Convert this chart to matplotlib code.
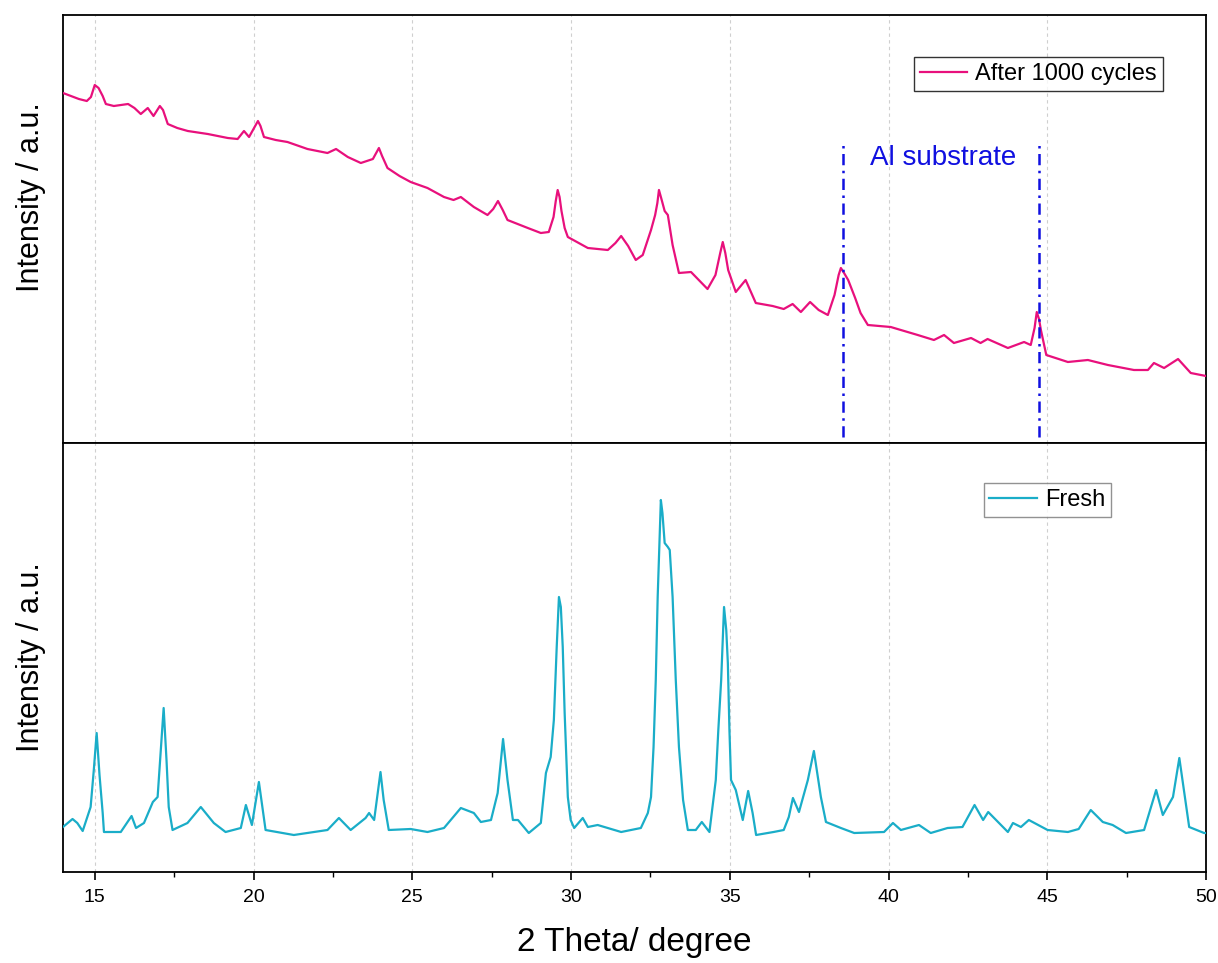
import matplotlib
matplotlib.use("Agg")
import matplotlib.pyplot as plt
from matplotlib.ticker import MultipleLocator

# ---------------- data ----------------
after_2theta = [14.00, 14.25, 14.50, 14.75, 14.88, 15.00, 15.12, 15.25, 15.35, 15.60,
                16.05, 16.25, 16.45, 16.67, 16.85, 17.05, 17.15, 17.30, 17.60, 17.93,
                18.56, 19.19, 19.50, 19.70, 19.86, 20.14, 20.22, 20.33, 20.70, 21.07,
                21.70, 22.33, 22.60, 22.97, 23.38, 23.76, 23.95, 24.05, 24.22, 24.60,
                24.95, 25.48, 26.00, 26.30, 26.53, 26.94, 27.37, 27.55, 27.70, 27.85,
                28.00, 28.64, 29.05, 29.30, 29.45, 29.52, 29.58, 29.64, 29.70, 29.80,
                29.90, 30.53, 31.16, 31.40, 31.58, 31.80, 32.04, 32.26, 32.52, 32.65,
                32.72, 32.77, 32.84, 32.95, 33.05, 33.20, 33.40, 33.78, 34.30, 34.55,
                34.70, 34.78, 34.86, 34.95, 35.19, 35.50, 35.82, 36.35, 36.70, 36.98,
                37.24, 37.53, 37.80, 38.09, 38.30, 38.43, 38.50, 38.60, 38.73, 38.95,
                39.12, 39.35, 40.07, 40.92, 41.43, 41.75, 42.06, 42.60, 42.90, 43.12,
                43.76, 44.27, 44.48, 44.60, 44.67, 44.74, 44.80, 44.97, 45.65, 46.28,
                46.91, 47.73, 48.17, 48.36, 48.68, 49.12, 49.52, 50.00]
after_intensity = [350, 347, 344, 342, 346, 358, 355, 347, 339, 337,
                   339, 335, 329, 335, 327, 337, 333, 319, 315, 312,
                   309, 305, 304, 312, 306, 322, 317, 306, 303, 301,
                   294, 290, 294, 286, 280, 284, 295, 287, 275, 267,
                   261, 255, 246, 243, 246, 236, 228, 234, 242, 233,
                   223, 215, 210, 211, 226, 242, 253, 246, 232, 215,
                   206, 195, 193, 200, 207, 197, 183, 188, 213, 228,
                   240, 253, 245, 232, 228, 198, 170, 171, 154, 168,
                   190, 201, 190, 173, 151, 163, 140, 137, 134, 139,
                   131, 141, 133, 128, 148, 168, 175, 170, 163, 145,
                   130, 118, 116, 108, 103, 108, 100, 105, 100, 104,
                   95, 101, 98, 115, 131, 124, 113, 88, 81, 83,
                   78, 73, 73, 80, 75, 84, 70, 67]

fresh_2theta = [14.00, 14.30, 14.45, 14.62, 14.87, 14.97, 15.06, 15.15, 15.25, 15.29,
                15.82, 16.16, 16.30, 16.55, 16.83, 16.98, 17.08, 17.17, 17.26, 17.33,
                17.45, 17.92, 18.34, 18.75, 19.12, 19.60, 19.76, 19.95, 20.17, 20.38,
                21.27, 21.90, 22.33, 22.69, 23.06, 23.53, 23.64, 23.80, 24.00, 24.10,
                24.26, 24.95, 25.48, 26.00, 26.53, 26.94, 27.16, 27.48, 27.69, 27.86,
                28.00, 28.17, 28.33, 28.67, 29.05, 29.21, 29.36, 29.46, 29.55, 29.62,
                29.68, 29.74, 29.80, 29.90, 29.99, 30.10, 30.37, 30.53, 30.84, 31.58,
                32.20, 32.42, 32.52, 32.60, 32.67, 32.73, 32.83, 32.88, 32.95, 33.05,
                33.11, 33.20, 33.30, 33.40, 33.53, 33.68, 33.93, 34.12, 34.36, 34.56,
                34.64, 34.73, 34.82, 34.89, 34.94, 34.99, 35.04, 35.19, 35.41, 35.58,
                35.72, 35.83, 36.38, 36.70, 36.86, 36.99, 37.18, 37.46, 37.65, 37.87,
                38.03, 38.50, 38.92, 39.86, 40.14, 40.39, 40.96, 41.33, 41.86, 42.33,
                42.71, 42.98, 43.14, 43.76, 43.92, 44.17, 44.42, 45.01, 45.65, 45.99,
                46.37, 46.75, 47.06, 47.48, 48.05, 48.43, 48.64, 48.96, 49.16, 49.47,
                49.94, 50.00]
fresh_intensity = [45, 53, 49, 41, 65, 102, 139, 97, 59, 40,
                   40, 56, 44, 49, 70, 75, 122, 164, 112, 65,
                   42, 49, 65, 49, 40, 44, 67, 47, 90, 42,
                   37, 40, 42, 54, 42, 54, 59, 52, 100, 72,
                   42, 43, 40, 44, 64, 59, 50, 52, 79, 133,
                   92, 52, 52, 39, 49, 99, 115, 152, 225, 275,
                   265, 225, 159, 75, 52, 44, 54, 45, 47, 40,
                   44, 59, 75, 125, 192, 275, 372, 359, 329, 325,
                   322, 275, 192, 125, 72, 42, 42, 50, 40, 92,
                   142, 192, 265, 242, 209, 142, 92, 82, 52, 81,
                   59, 37, 40, 42, 55, 74, 60, 92, 121, 75,
                   50, 44, 39, 40, 49, 42, 47, 39, 44, 45,
                   67, 52, 60, 40, 49, 45, 52, 42, 40, 43,
                   62, 50, 47, 39, 42, 82, 57, 75, 114, 45,
                   39, 39]

al_positions = [38.57, 44.73]
al_label = "Al substrate"
series_labels = ["After 1000 cycles", "Fresh"]
x_label = "2 Theta/ degree"
y_label = "Intensity / a.u."

# ---------------- figure ----------------
plt.rcParams['font.family'] = ['Liberation Sans', 'DejaVu Sans']

W, H = 1218, 963
fig = plt.figure(figsize=(W / 100, H / 100), dpi=100)
left, right = 63 / W, 1206 / W
ax1 = fig.add_axes([left, 1 - 443 / H, right - left, (443 - 15) / H])
ax2 = fig.add_axes([left, 1 - 872 / H, right - left, (872 - 443) / H], sharex=ax1)

pink = '#E8107C'
cyan = '#1AADC8'

ax1.plot(after_2theta, after_intensity, color=pink, lw=1.6, label=series_labels[0], zorder=3)
ax2.plot(fresh_2theta, fresh_intensity, color=cyan, lw=1.6, label=series_labels[1], zorder=3)

ax1.vlines(al_positions, 6, 298, colors='#1010E0', lw=1.8,
           linestyles=[(0, (4.5, 2.2, 1, 2.2))], zorder=4)
ax1.text(41.73, 285, al_label, color='#1010E0', fontsize=20, ha='center', va='center')

for ax in (ax1, ax2):
    ax.set_xlim(14, 50)
    ax.xaxis.set_major_locator(MultipleLocator(5))
    ax.xaxis.set_minor_locator(MultipleLocator(2.5))
    ax.tick_params(axis='x', which='major', direction='out', length=6, width=1.2)
    ax.tick_params(axis='x', which='minor', direction='out', length=3.5, width=1.0)
    ax.set_yticks([])
    ax.grid(axis='x', which='major', color='#cfcfcf', lw=0.8, ls=(0, (3, 3)))
    for s in ax.spines.values():
        s.set_linewidth(1.3)
    ax.set_ylabel(y_label, fontsize=22)

ax1.yaxis.set_label_coords(-0.0145, (443 - 197) / 428)
ax2.yaxis.set_label_coords(-0.0145, 0.5)

ax1.set_ylim(0, 428)
ax2.set_ylim(0, 429)
ax1.tick_params(axis='x', labelbottom=False)
ax2.tick_params(axis='x', labelsize=14, pad=6)
ax2.set_xlabel(x_label, fontsize=24, labelpad=15)

leg1 = ax1.legend(loc='upper right', bbox_to_anchor=(0.9624, 0.902), fontsize=17,
                  frameon=True, fancybox=False, edgecolor='black', handlelength=2.0,
                  borderpad=0.25, handletextpad=0.35, borderaxespad=0)
leg1.get_frame().set_linewidth(1.0)
leg2 = ax2.legend(loc='upper right', bbox_to_anchor=(0.917, 0.9068), fontsize=17,
                  frameon=True, fancybox=False, edgecolor='#777777', handlelength=2.0,
                  borderpad=0.25, handletextpad=0.35, borderaxespad=0)
leg2.get_frame().set_linewidth(1.0)

fig.savefig('out.png', dpi=100)
